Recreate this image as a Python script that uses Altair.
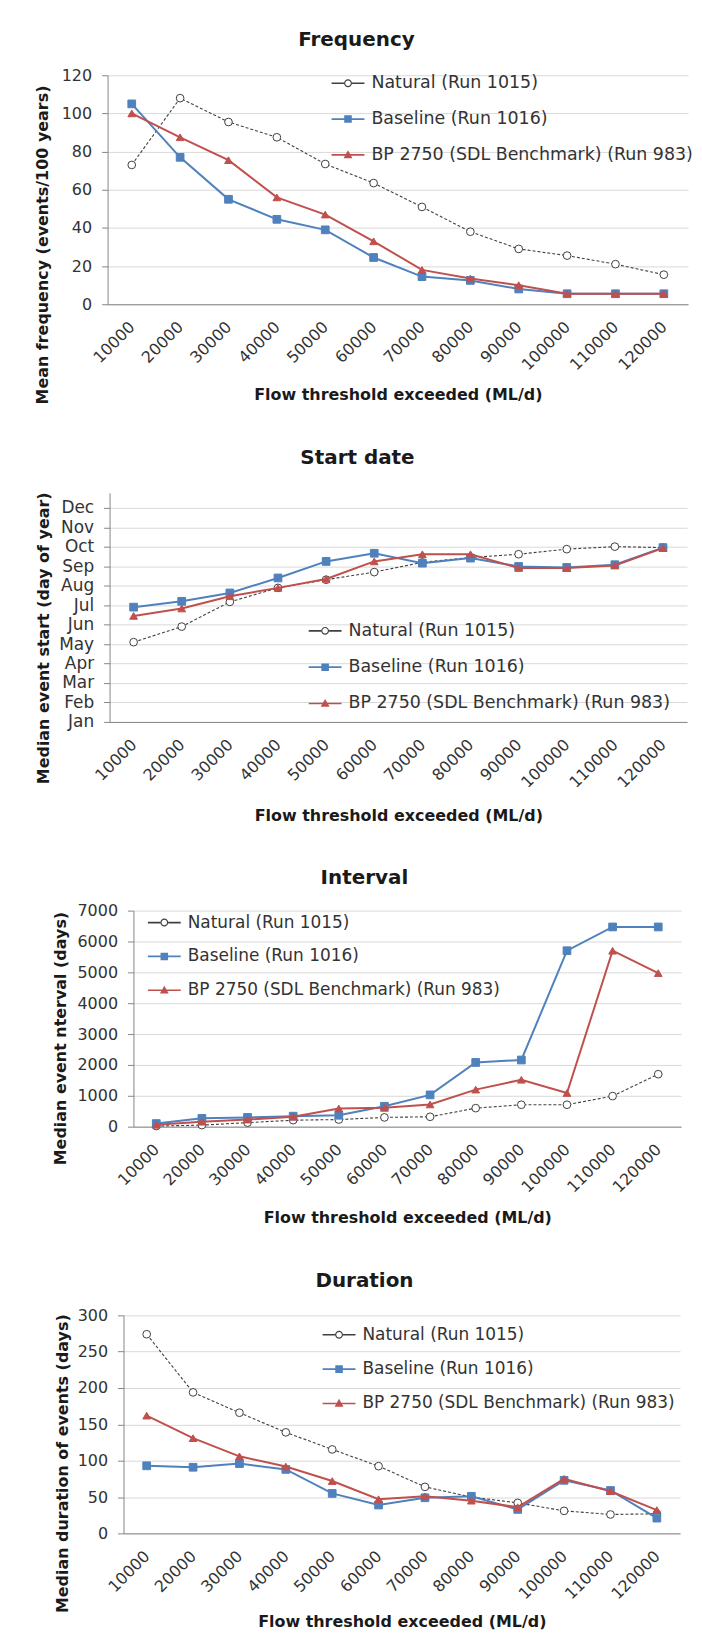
import altair as alt
import pandas as pd

# ---------------- data ----------------
thresholds = ["10000", "20000", "30000", "40000", "50000", "60000",
              "70000", "80000", "90000", "100000", "110000", "120000"]
series_names = ["Natural (Run 1015)", "Baseline (Run 1016)",
                "BP 2750 (SDL Benchmark) (Run 983)"]
month_names = ["Jan", "Feb", "Mar", "Apr", "May", "Jun",
               "Jul", "Aug", "Sep", "Oct", "Nov", "Dec"]

freq_natural = [73, 108, 95.5, 87.5, 73.5, 63.5, 51, 38, 29, 25.5, 21, 15.5]
freq_baseline = [105, 77, 55, 44.5, 39, 24.5, 14.5, 12.5, 8, 5.5, 5.5, 5.5]
freq_bp = [100, 87.5, 75.5, 56, 47, 33, 18, 13.5, 10, 5.5, 5.5, 5.5]

# start date in months after 1 Jan (Jan = 0 ... Dec = 11)
start_natural = [4.1, 4.9, 6.17, 6.89, 7.31, 7.7, 8.2, 8.45, 8.62, 8.88, 9.01, 8.96]
start_baseline = [5.9, 6.2, 6.63, 7.4, 8.25, 8.67, 8.16, 8.42, 7.99, 7.94, 8.08, 8.96]
start_bp = [5.45, 5.83, 6.46, 6.89, 7.35, 8.25, 8.62, 8.62, 7.91, 7.91, 8.04, 8.93]

interval_natural = [20, 50, 130, 210, 230, 300, 320, 600, 710, 710, 990, 1700]
interval_baseline = [100, 270, 300, 340, 370, 660, 1030, 2080, 2160, 5700, 6470, 6470]
interval_bp = [60, 160, 230, 320, 590, 610, 720, 1200, 1520, 1090, 5700, 4975]

duration_natural = [274, 194, 166, 139, 115.5, 92.5, 64, 50, 42, 31, 26, 27]
duration_baseline = [93, 91, 96, 88, 55, 39, 49, 51, 33, 73, 59, 21]
duration_bp = [162, 131, 106, 92, 72, 47, 51, 45, 36, 75, 58, 32]

# ---------------- styles ----------------
FONT = "DejaVu Sans"
line_colors = ["#404040", "#4F81BD", "#C0504D"]
fill_colors = ["#FFFFFF", "#4F81BD", "#C0504D"]
point_shapes = ["circle", "square", "triangle-up"]
# legend glyphs "-o-", "-■-", "-▲-" as filled paths (unit box -1..1)
legend_paths = [
    "M-1,-0.05H-0.24V0.05H-1Z M0.24,-0.05H1V0.05H0.24Z "
    "M0.24,0A0.24,0.24,0,1,1,-0.24,0A0.24,0.24,0,1,1,0.24,0Z "
    "M0.17,0A0.17,0.17,0,1,0,-0.17,0A0.17,0.17,0,1,0,0.17,0Z",
    "M-1,-0.05H1V0.05H-1Z M-0.23,-0.23H0.23V0.23H-0.23Z",
    "M-1,-0.05H1V0.05H-1Z M0,-0.28L0.27,0.2H-0.27Z",
]


def panel(values, title, ytitle, ydomain, yvalues, height, xrange,
          title_dx, title_offset, ytitle_x, ytitle_y, xtitle_y,
          legend_x, legend_y, row_pad, legend_font,
          ylabel_expr=None, ylabel_size=16):
    rows = []
    for name, vals in zip(series_names, values):
        for t, v in zip(thresholds, vals):
            rows.append({"threshold": t, "series": name, "value": v})
    df = pd.DataFrame(rows)

    yaxis = dict(title=ytitle, values=yvalues, offset=-xrange[0], tickSize=6,
                 tickColor="#868686", domainColor="#868686", gridColor="#D9D9D9",
                 labelFont=FONT, labelFontSize=ylabel_size, labelColor="#333333",
                 labelPadding=10, titleFont=FONT, titleFontSize=16,
                 titleFontWeight="bold", titleColor="#1a1a1a", titleAngle=270,
                 titleX=ytitle_x, titleY=ytitle_y, titleBaseline="middle",
                 titleAlign="center", format="d")
    if ylabel_expr:
        yaxis["labelExpr"] = ylabel_expr

    x = alt.X("threshold:N", sort=thresholds,
              scale=alt.Scale(type="point", range=xrange, padding=0.5),
              axis=alt.Axis(title="Flow threshold exceeded (ML/d)", labelAngle=-45,
                            labelAlign="right", labelBaseline="middle",
                            labelPadding=20, ticks=False, tickSize=0, grid=False,
                            domainColor="#868686", labelFont=FONT, labelFontSize=16,
                            labelColor="#333333", titleFont=FONT, titleFontSize=16,
                            titleFontWeight="bold", titleColor="#1a1a1a",
                            titleY=xtitle_y, titleBaseline="middle"))
    y = alt.Y("value:Q", scale=alt.Scale(domain=ydomain, nice=False),
              axis=alt.Axis(**yaxis))

    base = alt.Chart(df)
    layers = []
    for i, s in enumerate(series_names):
        if i == 0:
            ln = base.mark_line(color=line_colors[i], strokeWidth=1.1, strokeDash=[3, 2])
        else:
            ln = base.mark_line(color=line_colors[i], strokeWidth=2)
        layers.append(ln.transform_filter(alt.datum.series == s).encode(x=x, y=y))
        pt = base.mark_point(shape=point_shapes[i], filled=True, size=60,
                             fill=fill_colors[i], stroke=line_colors[i],
                             strokeWidth=1, opacity=1)
        layers.append(pt.transform_filter(alt.datum.series == s).encode(x=x, y=y))

    legend = alt.Legend(
        title=None, orient="none", legendX=legend_x, legendY=legend_y,
        direction="vertical", padding=0, symbolSize=1089, symbolStrokeWidth=0,
        symbolOpacity=1, labelFont=FONT, labelFontSize=legend_font,
        labelColor="#333333", labelOffset=7, labelLimit=600, rowPadding=row_pad)

    # legend carrier: invisible points whose legend shows the "-o-" style keys
    key = base.mark_point(filled=True, opacity=0, size=1).encode(
        x=x, y=y,
        color=alt.Color("series:N",
                        scale=alt.Scale(domain=series_names,
                                        range=line_colors[:1] + fill_colors[1:]),
                        legend=legend),
        shape=alt.Shape("series:N", scale=alt.Scale(domain=series_names, range=legend_paths),
                        legend=legend),
    )
    layers.append(key)

    return alt.layer(*layers).properties(
        width=585, height=height,
        title=alt.TitleParams(text=title, font=FONT, fontSize=20, fontWeight="bold",
                              color="#1a1a1a", anchor="middle", frame="group",
                              dx=title_dx, offset=title_offset))


month_expr = "[%s][datum.value]" % ",".join("'%s'" % m for m in month_names)

p1 = panel([freq_natural, freq_baseline, freq_bp], "Frequency",
           "Mean frequency (events/100 years)", [0, 120], list(range(0, 121, 20)),
           230, [0, 583], -42.5, 17, -65, 170, 91, 225, -8.5, 11, 17.5)
p2 = panel([start_natural, start_baseline, start_bp], "Start date",
           "Median event start (day of year)", [0, 11.77], list(range(12)),
           230, [2, 582], -41.5, 23.5, -66, 145.5, 93.5, 202, 122, 11.5, 17.5,
           ylabel_expr=month_expr, ylabel_size=17)
p3 = panel([interval_natural, interval_baseline, interval_bp], "Interval",
           "Median event nterval (days)", [0, 7000], list(range(0, 7001, 1000)),
           217, [26, 576], -34.5, 15, -73, 128, 91, 40.5, -4.5, 9, 17)
p4 = panel([duration_natural, duration_baseline, duration_bp], "Duration",
           "Median duration of events (days)", [0, 300], list(range(0, 301, 50)),
           219, [16, 575], -34.5, 16.5, -61, 148.5, 88.5, 216, 3, 9.5, 17)

chart = alt.vconcat(p1, p2, p3, p4, spacing=189.5, bounds="flush").resolve_scale(
    shape="independent", color="independent"
).resolve_legend(shape="independent", color="independent").properties(
    padding={"left": 26, "top": 18, "right": 0, "bottom": 0}
).configure(font=FONT).configure_view(stroke=None)

chart.save("out.html", embed_options={"renderer": "svg", "actions": False})
